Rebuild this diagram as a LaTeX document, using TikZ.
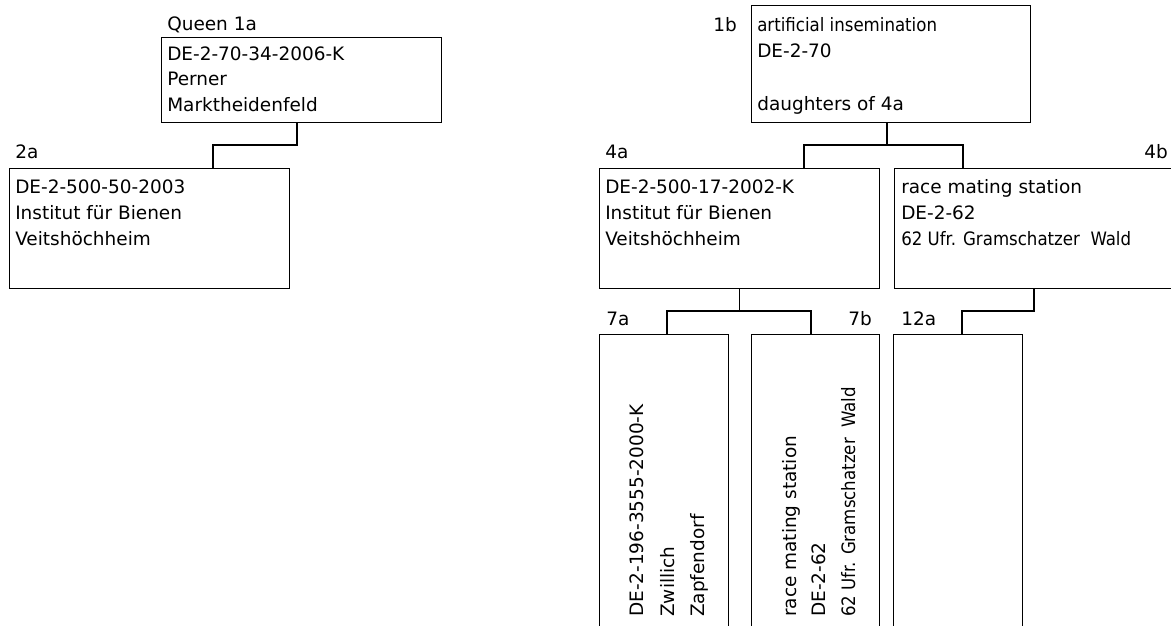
\documentclass[tikz,border=0pt]{standalone}
\usepackage{fontspec}
\setmainfont{DejaVu Sans}
\newfontfamily\condfont{DejaVu Sans Condensed}
\begin{document}
\begin{tikzpicture}[x=0.75pt,y=-0.75pt,
  box/.style={draw, line width=1pt, inner sep=0pt},
  txt/.style={anchor=base west, inner sep=0pt, font=\fontsize{13.85pt}{16pt}\selectfont},
  ctxt/.style={txt, font=\condfont\fontsize{13.85pt}{16pt}\selectfont},
  vtxt/.style={txt, rotate=90},
  link/.style={line width=1pt}]
\useasboundingbox (0,0) rectangle (1171,625);
% boxes
\node[box, minimum width=280*0.75pt, minimum height=85*0.75pt, anchor=north west] (n1a) at (161,37) {};
\node[box, minimum width=280*0.75pt, minimum height=120*0.75pt, anchor=north west] (n2a) at (9,168) {};
\node[box, minimum width=279*0.75pt, minimum height=117*0.75pt, anchor=north west] (n1b) at (751,5) {};
\node[box, minimum width=280*0.75pt, minimum height=120*0.75pt, anchor=north west] (n4a) at (599,168) {};
\node[box, minimum width=282*0.75pt, minimum height=120*0.75pt, anchor=north west] (n4b) at (894,168) {};
\node[box, minimum width=129*0.75pt, minimum height=310*0.75pt, anchor=north west] (n7a) at (599,334) {};
\node[box, minimum width=128*0.75pt, minimum height=310*0.75pt, anchor=north west] (n7b) at (751,334) {};
\node[box, minimum width=129*0.75pt, minimum height=310*0.75pt, anchor=north west] (n12a) at (893,334) {};
% labels
\node[txt] (l1a) at (167,30) {Queen 1a};
\node[txt] (l2a) at (15,158) {2a};
\node[txt, anchor=base east] (l1b) at (737,31) {1b};
\node[txt] (l4a) at (605,158) {4a};
\node[txt, anchor=base east] (l4b) at (1168,158) {4b};
\node[txt] (l7a) at (606,325) {7a};
\node[txt, anchor=base east] (l7b) at (872,325) {7b};
\node[txt] (l12a) at (901,325) {12a};
% box texts
\node[txt] (t1a1) at (167,60) {DE-2-70-34-2006-K};
\node[txt] (t1a2) at (167,85.5) {Perner};
\node[txt] (t1a3) at (167,111) {Marktheidenfeld};
\node[txt] (t2a1) at (15,193) {DE-2-500-50-2003};
\node[txt] (t2a2) at (15,219) {Institut für Bienen};
\node[txt] (t2a3) at (15,245) {Veitshöchheim};
\node[ctxt] (t1b1) at (757,31) {artificial insemination};
\node[txt] (t1b2) at (757,57) {DE-2-70};
\node[txt] (t1b3) at (757,110) {daughters of 4a};
\node[txt] (t4a1) at (605,193) {DE-2-500-17-2002-K};
\node[txt] (t4a2) at (605,219) {Institut für Bienen};
\node[txt] (t4a3) at (605,245) {Veitshöchheim};
\node[txt] (t4b1) at (901,193) {race mating station};
\node[txt] (t4b2) at (901,219) {DE-2-62};
\node[ctxt] (t4b3) at (901,245) {62 Ufr. Gramschatzer\ \ Wald};
\node[vtxt] (t7a1) at (643,617) {DE-2-196-3555-2000-K};
\node[vtxt] (t7a2) at (674,617) {Zwillich};
\node[vtxt] (t7a3) at (704,617) {Zapfendorf};
\node[vtxt] (t7b1) at (796,617) {race mating station};
\node[vtxt] (t7b2) at (825,617) {DE-2-62};
\node[vtxt, font=\condfont\fontsize{13.85pt}{16pt}\selectfont] (t7b3) at (855,617) {62 Ufr. Gramschatzer\ \ Wald};
% connectors
\draw[link] (n1a.south -| 297,0) |- (213,145) -- (n2a.north -| 213,0);
\draw[link] (n1b.south -| 887,0) -- (887,145);
\draw[link] (n4a.north -| 804,0) |- (963,145) -- (n4b.north -| 963,0);
\draw[link] (n4a.south) -- (n4a.south |- 0,311);
\draw[link] (n7a.north -| 667,0) |- (811,311) -- (n7b.north -| 811,0);
\draw[link] (n4b.south -| 1034,0) |- (962,311) -- (n12a.north -| 962,0);
\end{tikzpicture}
\end{document}
